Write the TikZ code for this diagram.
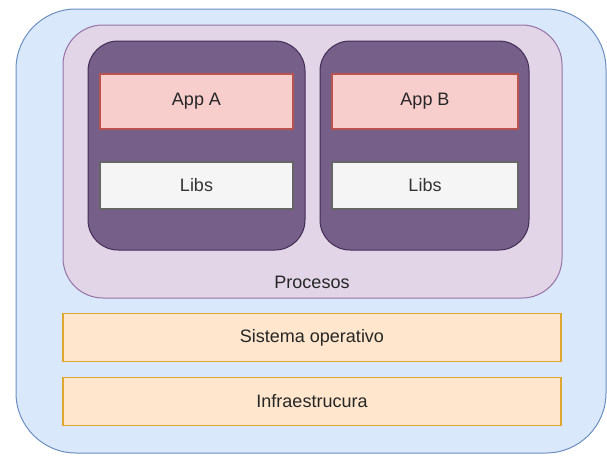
\documentclass[tikz,border=0pt]{standalone}
\usepackage{fontspec}
\setmainfont{Liberation Sans}
\definecolor{bluefill}{HTML}{DAE8FC}
\definecolor{bluedraw}{HTML}{6C8EBF}
\definecolor{purpfill}{HTML}{E1D5E7}
\definecolor{purpdraw}{HTML}{9673A6}
\definecolor{darkfill}{HTML}{76608A}
\definecolor{darkdraw}{HTML}{432D57}
\definecolor{redfill}{HTML}{F8CECC}
\definecolor{reddraw}{HTML}{B85450}
\definecolor{greyfill}{HTML}{F5F5F5}
\definecolor{greydraw}{HTML}{666666}
\definecolor{greytext}{HTML}{333333}
\definecolor{orfill}{HTML}{FFE6CC}
\definecolor{ordraw}{HTML}{E0A730}
\begin{document}
\begin{tikzpicture}[x=1pt,y=-1pt,
  txt/.style={font=\fontsize{18}{20}\selectfont},
  box/.style={draw, line width=1.2pt, inner sep=0pt, outer sep=0pt, txt},
  appbox/.style={box, fill=redfill, draw=reddraw, text=black!85},
  libbox/.style={box, fill=greyfill, draw=greydraw, text=greytext},
  layerbox/.style={box, fill=orfill, draw=ordraw, text=black!85},
  lbl/.style={txt, text=black!85}]
\useasboundingbox (0,0) rectangle (607,455);
% outer
\draw[fill=bluefill, draw=bluedraw, line width=1pt, rounded corners=60pt] (16,9) rectangle (606,453);
% procesos
\draw[fill=purpfill, draw=purpdraw, line width=1pt, rounded corners=40pt] (63,25) rectangle (562,298);
\node[lbl] (proc) at (312,282) {Procesos};
% process containers
\draw[fill=darkfill, draw=darkdraw, line width=1pt, rounded corners=30pt] (88,41) rectangle (305,250);
\draw[fill=darkfill, draw=darkdraw, line width=1pt, rounded corners=30pt] (320,41) rectangle (529,250);
% apps
\node[appbox, minimum width=193pt, minimum height=55pt] (appA) at (196.5,101.5) {App A};
\node[libbox, minimum width=193pt, minimum height=47pt] (libA) at (196.5,185.5) {Libs};
\node[appbox, minimum width=186pt, minimum height=55pt] (appB) at (425,101.5) {App B};
\node[libbox, minimum width=186pt, minimum height=47pt] (libB) at (425,185.5) {Libs};
% layers
\node[layerbox, minimum width=498pt, minimum height=48pt] (so) at (312,337.5) {Sistema operativo};
\node[layerbox, minimum width=498pt, minimum height=48pt] (infra) at (312,401.5) {Infraestrucura};
\end{tikzpicture}
\end{document}
